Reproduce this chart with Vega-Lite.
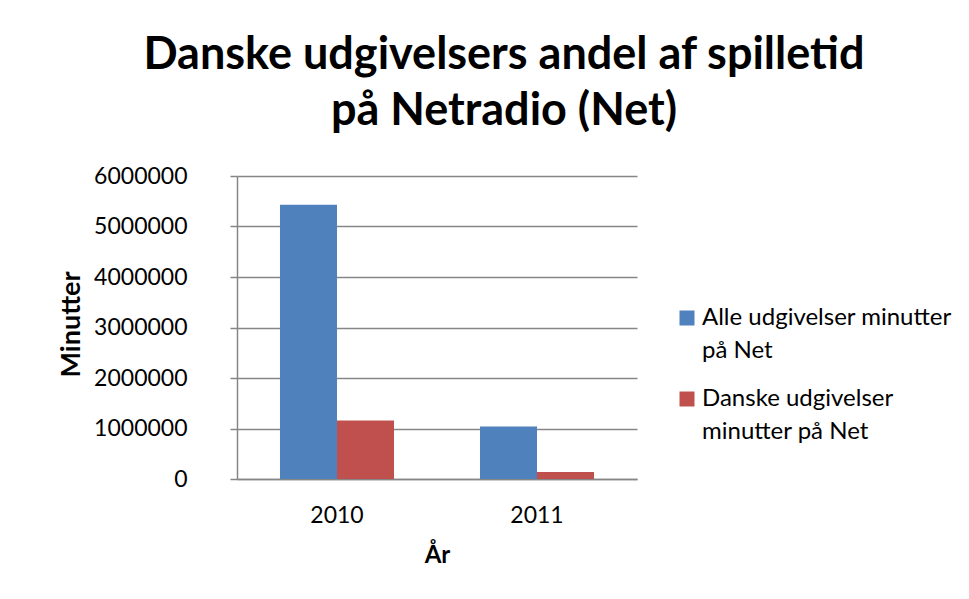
{
  "$schema": "https://vega.github.io/schema/vega-lite/v6.json",
  "width": 400,
  "height": 303,
  "autosize": {"type": "none"},
  "padding": {"left": 237, "top": 176, "right": 332, "bottom": 120},
  "background": "white",
  "title": {
    "text": ["Danske udgivelsers andel af spilletid", "på Netradio (Net)"],
    "font": "Lato, sans-serif",
    "fontSize": 45,
    "fontWeight": "bold",
    "color": "black",
    "anchor": "middle",
    "baseline": "alphabetic",
    "dx": 67,
    "offset": -5,
    "lineHeight": 56
  },
  "data": {
    "values": [
      {"year": "2010", "series": "Alle udgivelser minutter på Net", "minutes": 5430000},
      {"year": "2010", "series": "Danske udgivelser minutter på Net", "minutes": 1160000},
      {"year": "2011", "series": "Alle udgivelser minutter på Net", "minutes": 1040000},
      {"year": "2011", "series": "Danske udgivelser minutter på Net", "minutes": 140000}
    ]
  },
  "mark": {"type": "bar"},
  "encoding": {
    "x": {
      "field": "year", "type": "nominal",
      "scale": {"paddingInner": 0, "paddingOuter": 0},
      "axis": {
        "title": "År", "labelAngle": 0, "ticks": false, "tickSize": 0,
        "labelPadding": 25, "labelBaseline": "top",
        "labelFont": "Lato, sans-serif", "labelFontSize": 23, "labelColor": "black",
        "titleFont": "Lato, sans-serif", "titleFontSize": 24, "titleFontWeight": "bold", "titleColor": "black",
        "titleBaseline": "alphabetic", "titleY": 83,
        "domainColor": "#868686", "domainWidth": 1.5, "grid": false
      }
    },
    "xOffset": {
      "field": "series", "type": "nominal",
      "scale": {"paddingInner": 0, "paddingOuter": 0.754}
    },
    "y": {
      "field": "minutes", "type": "quantitative",
      "scale": {"domain": [0, 6000000], "nice": false},
      "axis": {
        "title": "Minutter", "values": [0, 1000000, 2000000, 3000000, 4000000, 5000000, 6000000],
        "format": "d", "tickSize": 7, "labelPadding": 43,
        "labelFont": "Lato, sans-serif", "labelFontSize": 23, "labelColor": "black",
        "titleFont": "Lato, sans-serif", "titleFontSize": 27, "titleFontWeight": "bold", "titleColor": "black",
        "titleX": -166, "titleY": 148, "titleBaseline": "middle", "titleAngle": -90,
        "domainColor": "#868686", "domainWidth": 1.5, "tickColor": "#868686", "tickWidth": 1.5,
        "gridColor": "#868686", "gridWidth": 1.5
      }
    },
    "color": {
      "field": "series", "type": "nominal",
      "scale": {
        "domain": ["Alle udgivelser minutter på Net", "Danske udgivelser minutter på Net"],
        "range": ["#4F81BD", "#C0504D"]
      },
      "legend": {
        "title": null, "orient": "none", "legendX": 438, "legendY": 130, "padding": 0,
        "symbolType": "square", "symbolSize": 225, "symbolStrokeWidth": 0, "symbolOpacity": 1,
        "labelFont": "Lato, sans-serif", "labelFontSize": 24, "labelColor": "black",
        "labelOffset": 3, "labelLimit": 400, "rowPadding": 24, "labelBaseline": "middle",
        "labelExpr": "datum.label == 'Alle udgivelser minutter på Net' ? ['Alle udgivelser minutter', 'på Net'] : ['Danske udgivelser', 'minutter på Net']"
      }
    }
  },
  "config": {
    "view": {"stroke": null},
    "style": {"guide-label": {"lineHeight": 33}}
  }
}
